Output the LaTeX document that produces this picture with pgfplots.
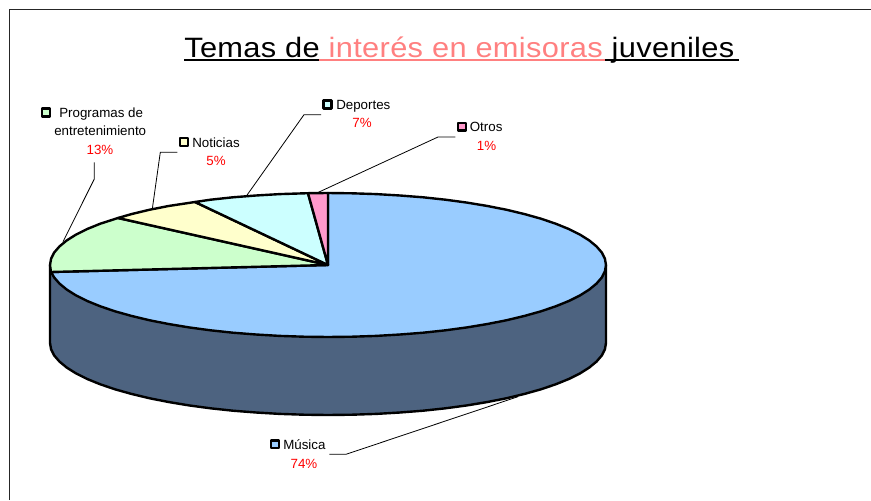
\documentclass[border=0pt]{standalone}
\usepackage{fontspec}
\setmainfont{Liberation Sans}
\newfontfamily\titlefont[FakeStretch=1.1,LetterSpace=1.2]{Liberation Sans}
\usepackage{pgfplots}
\pgfplotsset{compat=1.18}
\definecolor{musica}{HTML}{99CCFF}
\definecolor{programas}{HTML}{CCFFCC}
\definecolor{noticias}{HTML}{FFFFCC}
\definecolor{deportes}{HTML}{CCFFFF}
\definecolor{otros}{HTML}{FF99CC}
\definecolor{lado}{HTML}{4D6380}
\definecolor{rosa}{HTML}{FF8080}

\pgfplotsset{
  slice/.style={fill=#1, draw=black, line width=1.8pt, line join=round},
  leader/.style={draw=black, line width=0.6pt},
  key/.style={only marks, mark=square*, mark size=2.9pt,
    mark options={fill=#1, draw=black, line width=1.9pt, line join=round}},
}

\begin{document}
\begin{tikzpicture}
\begin{axis}[
  scale only axis,
  width=653.25pt, height=375pt,
  xmin=0, xmax=871, ymin=0, ymax=500,
  y dir=reverse,
  hide axis,
]
% keeps the page at the full 871x500
\path (axis cs:0,0) rectangle (axis cs:871,500);

% frame
\addplot[draw=black!85, line width=0.7pt] coordinates {(9,500) (9,9) (871,9)};

% side of the pie (74% shows at the front)
\addplot[slice=lado] coordinates {
  (50,265) (50,343) (51.1,349.3) (54.2,355.5) (59.5,361.6) (66.8,367.6) (76,373.4)
  (87.2,379) (100.3,384.3) (115,389.3) (131.4,393.9) (149.3,398.2) (168.5,402)
  (189,405.4) (210.5,408.3) (232.9,410.7) (256,412.5) (279.7,413.9) (303.8,414.7)
  (328,415) (352.2,414.7) (376.3,413.9) (400,412.5) (423.1,410.7) (445.5,408.3)
  (467,405.4) (487.5,402) (506.7,398.2) (524.6,393.9) (541,389.3) (555.7,384.3)
  (568.8,379) (580,373.4) (589.2,367.6) (596.5,361.6) (601.8,355.5) (604.9,349.3)
  (606,343) (606,265)
} --cycle;

% Musica 74
\addplot[slice=musica] coordinates {
  (328,265) (328,193) (352.2,193.3) (376.3,194.1) (400,195.5) (423.1,197.3)
  (445.5,199.7) (467,202.6) (487.5,206) (506.7,209.8) (524.6,214.1) (541,218.7)
  (555.7,223.7) (568.8,229) (580,234.6) (589.2,240.4) (596.5,246.4) (601.8,252.5)
  (604.9,258.7) (606,265) (604.9,271.3) (601.8,277.5) (596.5,283.6) (589.2,289.6)
  (580,295.4) (568.8,301) (555.7,306.3) (541,311.3) (524.6,315.9) (506.7,320.2)
  (487.5,324) (467,327.4) (445.5,330.3) (423.1,332.7) (400,334.5) (376.3,335.9)
  (352.2,336.7) (328,337) (303.8,336.7) (279.7,335.9) (256,334.5) (232.9,332.7)
  (210.5,330.3) (189,327.4) (168.5,324) (149.3,320.2) (131.4,315.9) (115,311.3)
  (100.3,306.3) (87.2,301) (76,295.4) (66.8,289.6) (59.5,283.6) (54.2,277.5) (51,272)
} --cycle;
% Programas 13
\addplot[slice=programas] coordinates {
  (328,265) (51,272) (50,265) (51.1,258.7) (54.2,252.5) (59.5,246.4) (66.8,240.4)
  (76,234.6) (87.2,229) (100.3,223.7) (118,218)
} --cycle;
% Noticias 5
\addplot[slice=noticias] coordinates {
  (328,265) (118,218) (131.4,214.1) (149.3,209.8) (168.5,206) (195,202)
} --cycle;
% Deportes 7
\addplot[slice=deportes] coordinates {
  (328,265) (195,202) (210.5,199.7) (232.9,197.3) (256,195.5) (279.7,194.1) (308,193.2)
} --cycle;
% Otros 1
\addplot[slice=otros] coordinates {(328,265) (308,193.2) (328,193)} --cycle;

% leader lines
\addplot[leader] coordinates {(329.3,454.3) (346,454.3) (518,396.7)};
\addplot[leader] coordinates {(455.4,137) (438,137) (317.5,192.7)};
\addplot[leader] coordinates {(321,114.7) (304,114.7) (246.6,195.7)};
\addplot[leader] coordinates {(177.3,152.3) (160.3,152.3) (152.3,209)};
\addplot[leader] coordinates {(94.3,162.3) (94.3,179) (63,241.7)};

% legend keys beside the labels
\addplot[key=programas] coordinates {(46,112.5)};
\addplot[key=noticias] coordinates {(184,142)};
\addplot[key=deportes] coordinates {(327.5,104.5)};
\addplot[key=otros] coordinates {(462,126.7)};
\addplot[key=musica] coordinates {(275,444.3)};

% title and its underline
\addplot[draw=black, line width=1.5pt] coordinates {(184,60) (319,60)};
\addplot[draw=rosa, line width=1.5pt] coordinates {(319,60) (605,60)};
\addplot[draw=black, line width=1.5pt] coordinates {(605,60) (739,60)};
\node[anchor=base west, inner sep=0pt] at (axis cs:184,57)
  {\titlefont\fontsize{21}{25}\selectfont Temas de \textcolor{rosa}{interés en emisoras} juveniles};

% labels
\tikzset{lab/.style={anchor=base west, inner sep=0pt, font=\fontsize{10}{12}\selectfont},
         pct/.style={anchor=base, inner sep=0pt, text=red, font=\fontsize{10}{12}\selectfont}}
\node[lab] at (axis cs:59,117.3) {Programas de};
\node[lab] at (axis cs:54,135.3) {entretenimiento};
\node[pct] at (axis cs:100,154) {13\%};
\node[lab] at (axis cs:192,147) {Noticias};
\node[pct] at (axis cs:216,165) {5\%};
\node[lab] at (axis cs:336,109.5) {Deportes};
\node[pct] at (axis cs:362,127.3) {7\%};
\node[lab] at (axis cs:469.6,131) {Otros};
\node[pct] at (axis cs:486.5,150.3) {1\%};
\node[lab] at (axis cs:283,449.3) {Música};
\node[pct] at (axis cs:304,468.3) {74\%};
\end{axis}
\end{tikzpicture}
\end{document}
